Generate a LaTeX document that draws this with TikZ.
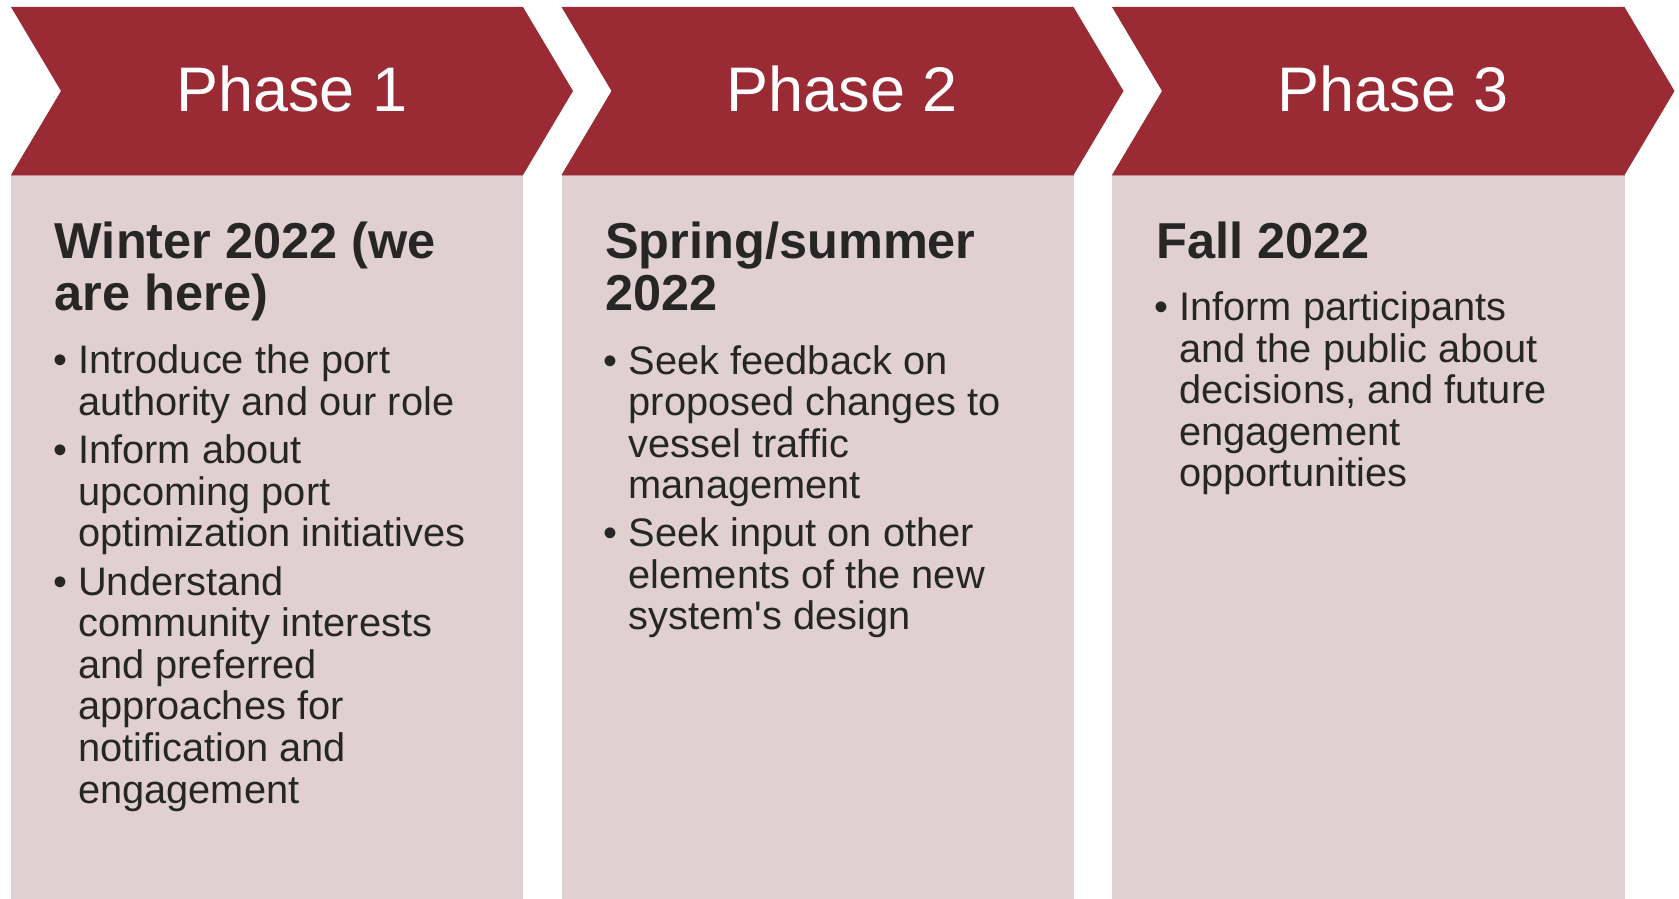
\documentclass[tikz,border=0pt]{standalone}
\usepackage{fontspec}
\setmainfont{Liberation Sans}[Ligatures=TeXOff]
\definecolor{chev}{HTML}{9A2A33}
\definecolor{bodyc}{HTML}{E0D0D1}
\definecolor{txt}{HTML}{262626}
\definecolor{seam}{HTML}{C48C92}
\begin{document}
\begin{tikzpicture}[x=1pt,y=-1pt,
  phasetitle/.style={text=white,font=\fontsize{63}{70}\selectfont,inner sep=0pt,anchor=base},
  headtext/.style={text=txt,font=\bfseries\fontsize{50.5}{51.7}\selectfont,align=left,inner sep=0pt,anchor=base west},
  bultext/.style={text=txt,font=\fontsize{39.8}{41.6}\selectfont,align=left,inner sep=0pt,anchor=base west},
  bulmark/.style={text=txt,font=\fontsize{39.8}{41.6}\selectfont,inner sep=0pt,anchor=base west},
  seamline/.style={draw=seam,line width=1.5pt}]
\useasboundingbox (0,0) rectangle (1679,899);
% column 1
\fill[bodyc] (11,175) rectangle (523,899);
\fill[chev] (11,7) -- (523,7) -- (573,91) -- (523,175) -- (11,175) -- (61,91) -- cycle;
\draw[seamline] (11,175.5) -- (523,175.5);
% column 2
\fill[bodyc] (561.5,175) rectangle (1073.5,899);
\fill[chev] (561.5,7) -- (1073.5,7) -- (1123.5,91) -- (1073.5,175) -- (561.5,175) -- (611.5,91) -- cycle;
\draw[seamline] (561.5,175.5) -- (1073.5,175.5);
% column 3
\fill[bodyc] (1112,175) rectangle (1624.5,899);
\fill[chev] (1112,7) -- (1624.5,7) -- (1674.5,91) -- (1624.5,175) -- (1112,175) -- (1162,91) -- cycle;
\draw[seamline] (1112,175.5) -- (1624.5,175.5);

% titles
\node[phasetitle] (p1) at (292,111.7) {Phase 1};
\node[phasetitle] (p2) at (842.5,111.7) {Phase 2};
\node[phasetitle] (p3) at (1393,111.7) {Phase 3};

% column 1 text (multi-line nodes are anchored at their last baseline)
\node[headtext] (h1) at (54.5,310) {Winter 2022 (we\\are here)};
\node[bulmark] (b1a) at (53,373.5) {•};
\node[bultext] (t1a) at (78,415.1) {Introduce the port\\authority and our role};
\node[bulmark] (b1b) at (53,463.5) {•};
\node[bultext] (t1b) at (78,546.7) {Inform about\\upcoming port\\optimization initiatives};
\node[bulmark] (b1c) at (53,595) {•};
\node[bultext] (t1c) at (78,803) {Understand\\community interests\\and preferred\\approaches for\\notification and\\engagement};

% column 2 text
\node[headtext] (h2) at (605,310) {Spring/summer\\2022};
\node[bulmark] (b2a) at (603.5,374) {•};
\node[bultext] (t2a) at (628.5,498.8) {Seek feedback on\\proposed changes to\\vessel traffic\\management};
\node[bulmark] (b2b) at (603.5,546.5) {•};
\node[bultext] (t2b) at (628.5,629.7) {Seek input on other\\elements of the new\\system's design};

% column 3 text
\node[headtext] (h3) at (1156,258.3) {Fall 2022};
\node[bulmark] (b3a) at (1154.5,320.5) {•};
\node[bultext] (t3a) at (1179,486.9) {Inform participants\\and the public about\\decisions, and future\\engagement\\opportunities};
\end{tikzpicture}
\end{document}
